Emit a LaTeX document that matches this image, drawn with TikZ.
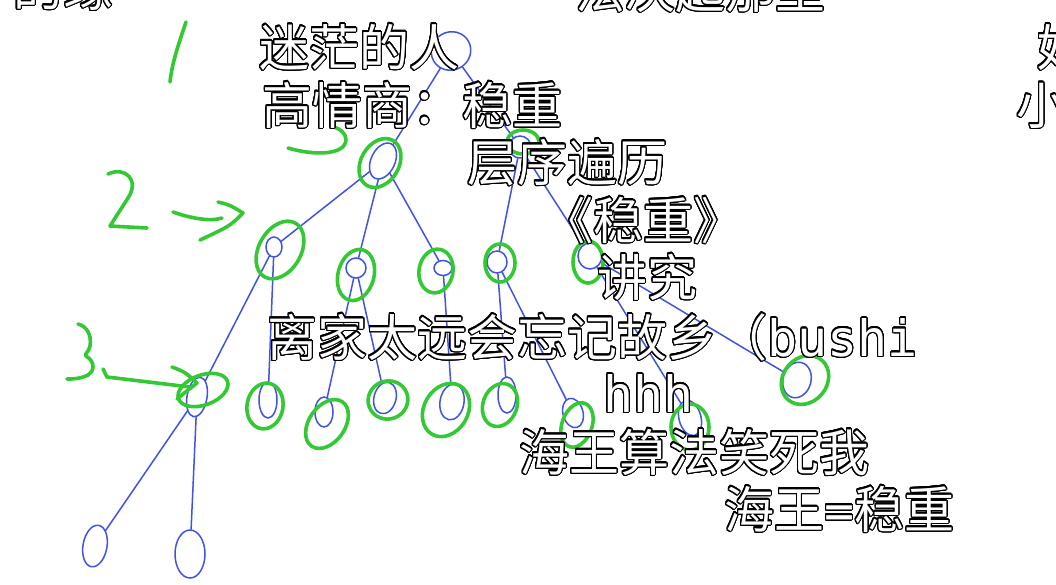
\documentclass[tikz,border=0pt]{standalone}
\usepackage{fontspec}
\setmainfont{Noto Sans CJK SC}
\newfontfamily\monof{DejaVu Sans Mono}
\usepackage{contour}
\contourlength{1.2pt}
\contournumber{32}
\usetikzlibrary{shapes.geometric}
\definecolor{treeblue}{RGB}{64,84,224}
\definecolor{annogreen}{RGB}{52,200,52}
\newcommand\dmk[1]{{\color{white}\contour{black}{#1}}}
\tikzset{
 bn/.style={ellipse,draw=treeblue,line width=1.5pt,inner sep=0pt},
 gn/.style={ellipse,draw=annogreen,line width=3.6pt,inner sep=0pt},
 edge/.style={draw=treeblue,line width=1.5pt,line cap=round},
 anno/.style={draw=annogreen,line width=3.6pt,line cap=round,line join=round},
 dm/.style={anchor=base west,inner sep=0pt,font=\fontsize{50}{50}\selectfont},
}
\begin{document}
\begin{tikzpicture}[x=1pt,y=-1pt]
\fill[white] (0,0) rectangle (1056,584);
\useasboundingbox (0,0) rectangle (1056,584);
% blue tree nodes
\node[bn,minimum width=40pt,minimum height=38pt,rotate=30] (R) at (451,51) {};
\node[bn,minimum width=24pt,minimum height=38pt,rotate=-25] (A) at (383,161) {};
\node[bn,minimum width=22pt,minimum height=22pt] (B) at (520,147) {};
\node[bn,minimum width=16pt,minimum height=20pt] (A1) at (274,247) {};
\node[bn,minimum width=20pt,minimum height=20pt] (A2) at (356,268) {};
\node[bn,minimum width=18pt,minimum height=15pt] (A3) at (443,268) {};
\node[bn,minimum width=20pt,minimum height=22pt] (B1) at (497,262) {};
\node[bn,minimum width=24pt,minimum height=26pt] (B2) at (590,256) {};
\node[bn,minimum width=28pt,minimum height=36pt,rotate=-15] (E) at (797,380) {};
\node[bn,minimum width=20pt,minimum height=40pt,rotate=-10] (C1) at (197,397) {};
\node[bn,minimum width=18pt,minimum height=36pt] (C2) at (268,400) {};
\node[bn,minimum width=18pt,minimum height=30pt] (C3) at (324,412) {};
\node[bn,minimum width=22pt,minimum height=32pt,rotate=-15] (C4) at (385,398) {};
\node[bn,minimum width=24pt,minimum height=36pt,rotate=-10] (C5) at (452,402) {};
\node[bn,minimum width=18pt,minimum height=36pt] (C6) at (507,395) {};
\node[bn,minimum width=20pt,minimum height=30pt,rotate=15] (C7) at (573,413) {};
\node[bn,minimum width=22pt,minimum height=36pt,rotate=15] (C8) at (690,418) {};
\node[bn,minimum width=24pt,minimum height=42pt,rotate=-10] (D1) at (95,546) {};
\node[bn,minimum width=30pt,minimum height=48pt] (D2) at (190,554) {};
% blue edges
\draw[edge] (R) -- (A);
\draw[edge] (R) -- (B);
\draw[edge] (A) -- (A1);
\draw[edge] (A) -- (A2);
\draw[edge] (A) -- (A3);
\draw[edge] (B) -- (B1);
\draw[edge] (B) -- (B2);
\draw[edge] (A1) -- (C1);
\draw[edge] (A1) -- (C2);
\draw[edge] (A2) -- (C3);
\draw[edge] (A2) -- (C4);
\draw[edge] (A3) -- (C5);
\draw[edge] (B1) -- (C6);
\draw[edge] (B1) -- (C7);
\draw[edge] (B2) -- (C8);
\draw[edge] (B2) -- (E);
\draw[edge] (C1) -- (D1);
\draw[edge] (C1) -- (D2);
% green marks round the visited nodes
\node[gn,minimum width=38pt,minimum height=52pt,rotate=-30] (gA) at (380,163) {};
\node[gn,minimum width=32pt,minimum height=24pt] (gB) at (523,142) {};
\node[gn,minimum width=42pt,minimum height=62pt,rotate=-30] (gA1) at (280,250) {};
\node[gn,minimum width=36pt,minimum height=52pt,rotate=-15] (gA2) at (356,275) {};
\node[gn,minimum width=34pt,minimum height=44pt,rotate=-10] (gA3) at (436,271) {};
\node[gn,minimum width=30pt,minimum height=38pt] (gB1) at (500,263) {};
\node[gn,minimum width=30pt,minimum height=42pt] (gB2) at (588,262) {};
\node[gn,minimum width=44pt,minimum height=52pt,rotate=-40] (gE) at (805,380) {};
\node[gn,minimum width=52pt,minimum height=30pt,rotate=20] (gC1) at (203,390) {};
\node[gn,minimum width=36pt,minimum height=46pt,rotate=-10] (gC2) at (265,406) {};
\node[gn,minimum width=36pt,minimum height=54pt,rotate=-35] (gC3) at (327,424) {};
\node[gn,minimum width=40pt,minimum height=38pt,rotate=20] (gC4) at (388,400) {};
\node[gn,minimum width=44pt,minimum height=56pt,rotate=-30] (gC5) at (446,410) {};
\node[gn,minimum width=34pt,minimum height=44pt,rotate=-20] (gC6) at (500,405) {};
\node[gn,minimum width=30pt,minimum height=46pt,rotate=-20] (gC7) at (577,425) {};
\node[gn,minimum width=38pt,minimum height=46pt] (gC8) at (690,427) {};
% green level marks
\draw[anno] (186,22) .. controls (180,40) and (172,62) .. (170,82);
\draw[anno] (288,148) .. controls (315,156) and (345,155) .. (346,140) .. controls (346,133) and (340,129) .. (334,127);
\draw[anno] (108,174) .. controls (125,166) and (140,180) .. (128,198) -- (110,226) -- (147,228);
\draw[anno] (173,212) .. controls (190,218) and (210,222) .. (222,218);
\draw[anno] (218,202) .. controls (230,205) .. (243,213) .. controls (230,226) .. (200,240);
\draw[anno] (78,324) .. controls (86,326) and (92,334) .. (90,346) .. controls (89,352) and (84,354) .. (86,356) .. controls (96,362) and (94,372) .. (88,375) .. controls (80,379) and (72,379) .. (67,379);
\draw[anno] (103,369) -- (107,377) -- (190,387);
\draw[anno] (172,367) .. controls (185,372) .. (197,383) .. controls (188,390) .. (177,399);
% bullet comments
\node[dm] (t0) at (13,6) {\dmk{的缘}};
\node[dm] (t1) at (575,8) {\dmk{法决起那里}};
\node[dm] (t2) at (1037,66) {\dmk{好}};
\node[dm] (t3) at (1016,124) {\dmk{小}};
\node[dm] (m1) at (259,66) {\dmk{迷茫的人}};
\node[dm] (m2) at (262,124) {\dmk{高情商：稳重}};
\node[dm] (m3) at (467,181) {\dmk{层序遍历}};
\node[dm] (m4) at (543,239) {\dmk{《稳重》}};
\node[dm] (m5) at (597,296) {\dmk{讲究}};
\node[dm] (m6) at (267,356) {\dmk{离家太远会忘记故乡（{\monof bushi}}};
\node[dm] (m7) at (603,412) {\dmk{\monof hhh}};
\node[dm] (m8) at (519,471) {\dmk{海王算法笑死我}};
\node[dm] (m9) at (724,528) {\dmk{海王{\monof =}稳重}};
\end{tikzpicture}
\end{document}
